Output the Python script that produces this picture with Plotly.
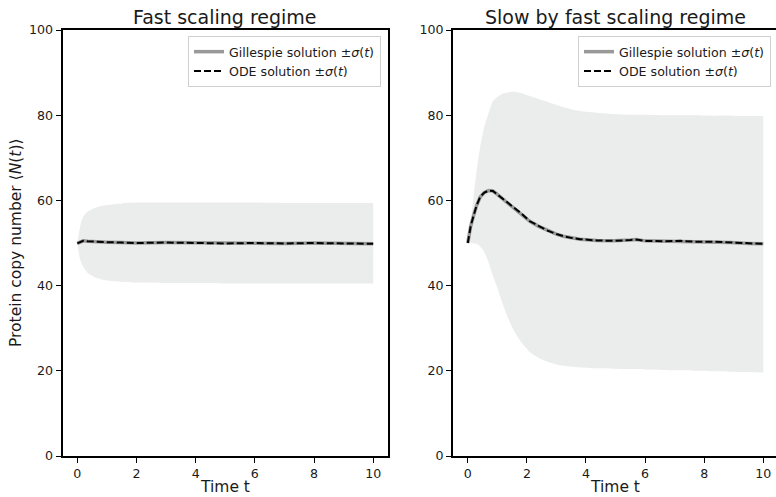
import plotly.graph_objects as go

# ---------------- data ----------------
t_fast = [0, 0.1, 0.2, 0.35, 0.55, 0.75, 1.0, 1.5, 2, 3, 4, 5, 6, 7, 8, 9, 10]
mean_fast = [49.9, 50.3, 50.5, 50.4, 50.3, 50.2, 50.2, 50.1, 50.0, 50.1, 50.0, 49.9, 50.0, 49.9, 50.0, 49.9, 49.8]
upper_fast = [50, 54.0, 56.2, 57.4, 58.1, 58.6, 58.9, 59.3, 59.5, 59.5, 59.5, 59.5, 59.5, 59.4, 59.4, 59.4, 59.4]
lower_fast = [50, 46.0, 44.4, 43.0, 42.1, 41.6, 41.2, 40.9, 40.7, 40.6, 40.6, 40.5, 40.5, 40.5, 40.5, 40.5, 40.5]

t_slow = [0, 0.1, 0.2, 0.3, 0.42, 0.55, 0.7, 0.85, 1.0, 1.2, 1.4, 1.55, 1.8, 2.1, 2.4, 2.67, 3.0, 3.23,
          3.5, 3.8, 4.36, 4.93, 5.5, 5.7, 6.0, 6.6, 7.2, 7.7, 8.3, 8.9, 9.5, 10]
mean_slow = [50.0, 54.0, 56.5, 58.8, 60.8, 61.8, 62.3, 62.2, 61.4, 60.3, 59.1, 58.3, 57.0, 55.1, 53.9, 53.0, 52.1, 51.6,
             51.2, 50.9, 50.6, 50.5, 50.7, 50.8, 50.5, 50.4, 50.5, 50.3, 50.3, 50.1, 49.9, 49.8]
upper_slow = [50, 55.0, 61.0, 67.0, 72.6, 77.0, 80.4, 83.3, 84.3, 85.1, 85.4, 85.5, 85.2, 84.5, 83.8, 83.2, 82.4, 81.9,
              81.4, 81.0, 80.6, 80.3, 80.1, 80.1, 80.1, 80.0, 80.0, 80.0, 79.9, 79.9, 79.8, 79.8]
lower_slow = [50, 50.0, 49.9, 49.8, 49.2, 48.0, 45.5, 42.3, 39.5, 35.3, 31.8, 29.6, 26.8, 24.4, 23.0, 22.2, 21.5, 21.2,
              21.0, 20.8, 20.6, 20.5, 20.4, 20.4, 20.3, 20.2, 20.1, 20.0, 19.9, 19.8, 19.7, 19.6]

titles = ["Fast scaling regime", "Slow by fast scaling regime"]
x_ticks = [0, 2, 4, 6, 8, 10]
y_ticks = [0, 20, 40, 60, 80, 100]
legend_labels = ["Gillespie solution ±<i>σ</i>(<i>t</i>)", "ODE solution ±<i>σ</i>(<i>t</i>)"]

# ---------------- figure ----------------
W, H = 776, 497
ML, MR, MT, MB = 0, 0, 30, 41
FONT = "DejaVu Sans"
TXT = "#1a1a1a"
BAND = "rgba(235,236,236,1)"

fig = go.Figure()

panels = [
    (t_fast, mean_fast, upper_fast, lower_fast, "x", "y", "legend"),
    (t_slow, mean_slow, upper_slow, lower_slow, "x2", "y2", "legend2"),
]
for t, m, up, lo, xa, ya, lg in panels:
    fig.add_trace(go.Scatter(x=t, y=lo, mode="lines", line=dict(width=0, color=BAND, shape="spline", smoothing=0.6),
                             showlegend=False, hoverinfo="skip", xaxis=xa, yaxis=ya))
    fig.add_trace(go.Scatter(x=t, y=up, mode="lines", line=dict(width=0, color=BAND, shape="spline", smoothing=0.6),
                             fill="tonexty", fillcolor=BAND,
                             showlegend=False, hoverinfo="skip", xaxis=xa, yaxis=ya))
    fig.add_trace(go.Scatter(x=t, y=m, mode="lines", name=legend_labels[0],
                             line=dict(color="#999999", width=3.5),
                             xaxis=xa, yaxis=ya, legend=lg))
    fig.add_trace(go.Scatter(x=t, y=m, mode="lines", name=legend_labels[1],
                             line=dict(color="black", width=2, dash="7px,3px"),
                             xaxis=xa, yaxis=ya, legend=lg))

dom_left = [62.5 / W, 388 / W]
dom_right = [453 / W, 1.0]

axis_common = dict(
    showgrid=False, zeroline=False, showline=True, linecolor="black", linewidth=2,
    ticks="outside", ticklen=5, tickwidth=1.3, tickcolor="black",
    tickfont=dict(family=FONT, size=12.6, color=TXT),
)

legend_common = dict(
    xref="paper", xanchor="right", y=0.986, yanchor="top",
    bgcolor="white", bordercolor="#d0d0d0", borderwidth=1,
    font=dict(family=FONT, size=12.6, color=TXT), itemwidth=30,
    tracegroupgap=0, traceorder="normal",
)

fig.update_layout(
    width=W, height=H,
    margin=dict(l=ML, r=MR, t=MT, b=MB),
    paper_bgcolor="white", plot_bgcolor="white",
    font=dict(family=FONT, color=TXT),
    xaxis=dict(domain=dom_left, range=[-0.5, 10.5], tickvals=x_ticks, anchor="y", mirror=True, **axis_common),
    yaxis=dict(domain=[0, 1], range=[0, 100], tickvals=y_ticks, anchor="x", mirror=True, **axis_common),
    xaxis2=dict(domain=dom_right, range=[-0.5, 10.43], tickvals=x_ticks, anchor="y2", mirror=True, **axis_common),
    yaxis2=dict(domain=[0, 1], range=[0, 100], tickvals=y_ticks, anchor="x2", mirror=False, **axis_common),
    legend=dict(x=381 / W, **legend_common),
    legend2=dict(x=771 / W, **legend_common),
)

plot_h = H - MT - MB
def py(pix):
    return (H - MB - pix) / plot_h

annotations = []
centers = [(dom_left[0] + dom_left[1]) / 2, 615 / W]
for c, title in zip(centers, titles):
    annotations.append(dict(text=title, x=c, y=py(17), xref="paper", yref="paper",
                            xanchor="center", yanchor="middle", showarrow=False,
                            font=dict(family=FONT, size=19, color=TXT)))
    annotations.append(dict(text="Time t", x=c, y=py(487), xref="paper", yref="paper",
                            xanchor="center", yanchor="middle", showarrow=False,
                            font=dict(family=FONT, size=15.5, color=TXT)))
annotations.append(dict(text="Protein copy number ⟨<i>N</i>(<i>t</i>)⟩", x=16 / W, y=py(243),
                        xref="paper", yref="paper", xanchor="center", yanchor="middle",
                        textangle=-90, showarrow=False,
                        font=dict(family=FONT, size=15.5, color=TXT)))
fig.update_layout(annotations=annotations)

fig.write_html("out.html", config={"displayModeBar": False},
               post_script="document.body.style.margin='0';document.body.style.overflow='hidden';")
